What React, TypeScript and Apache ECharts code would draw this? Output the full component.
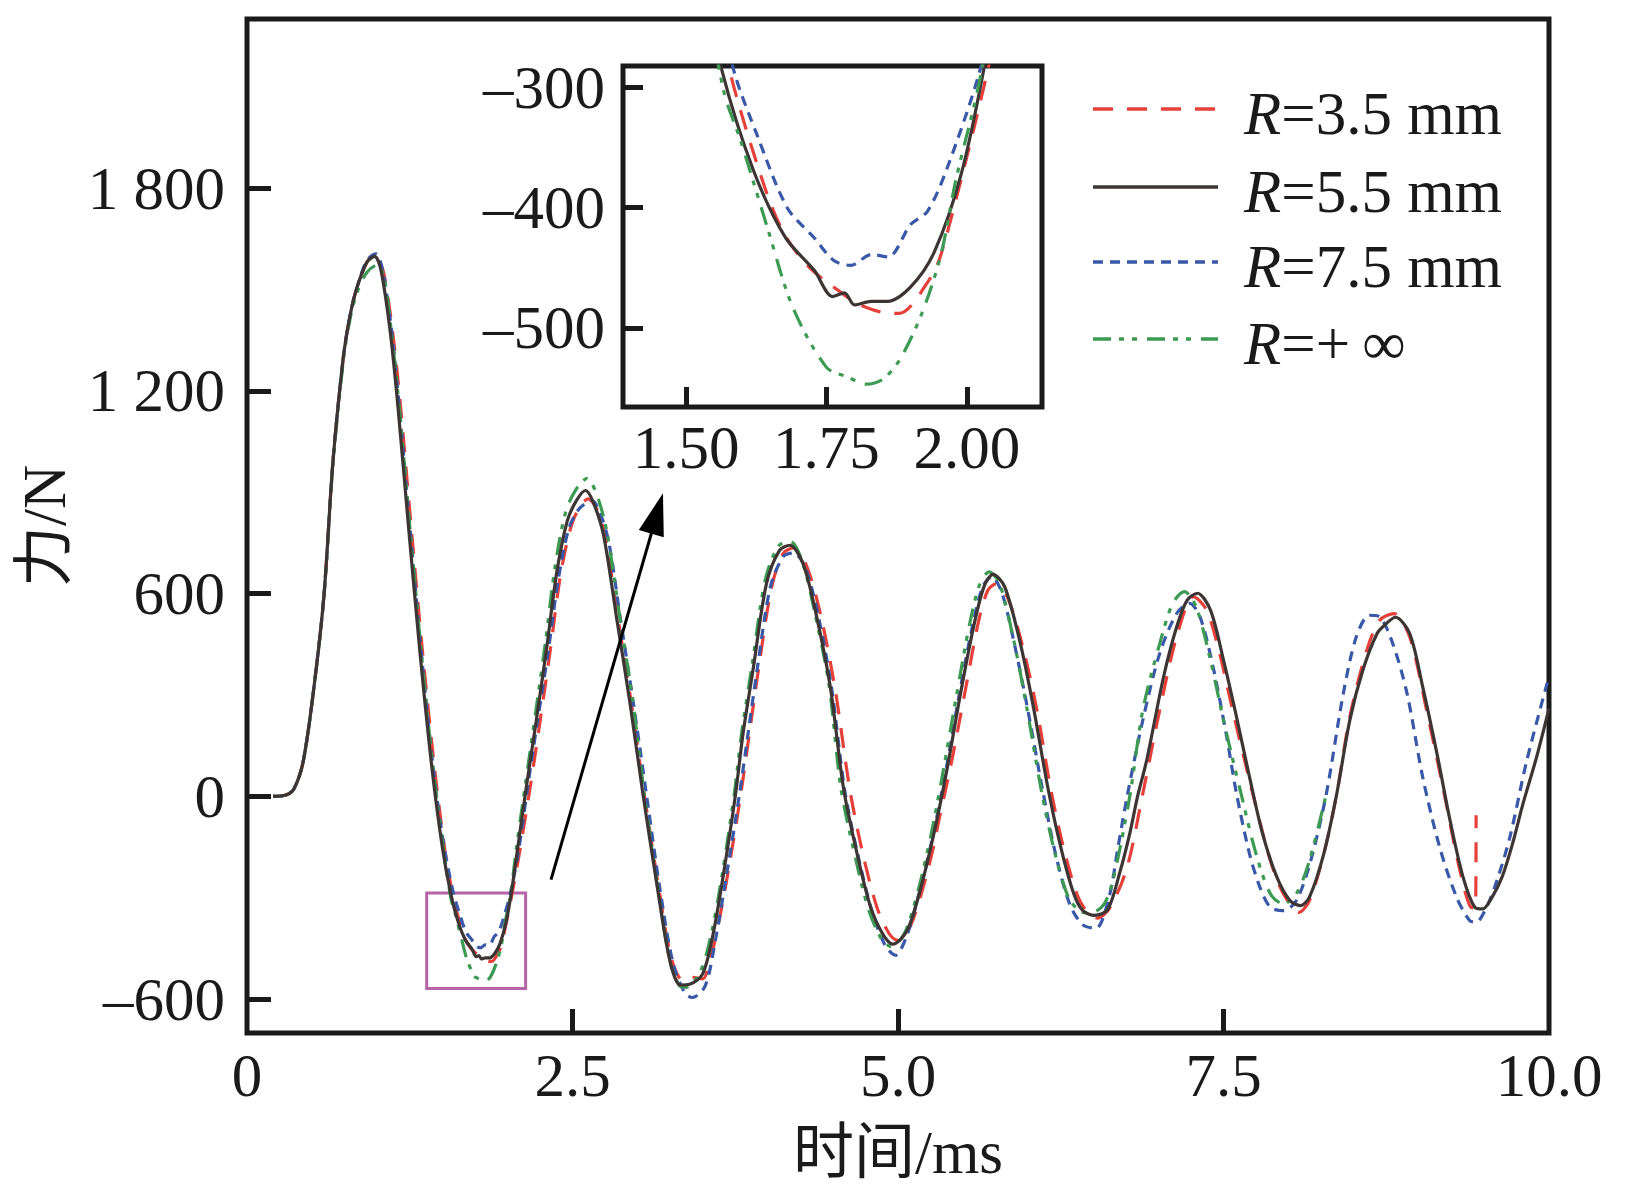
import React, { useEffect, useRef } from "react";
import * as echarts from "echarts";

// ---------- data (time in ms, force in N) ----------
const r35Points: number[][] = [
  [0.2,0],[0.3,4],[0.36,22],[0.43,100],[0.51,310],[0.59,590],[0.66,990],[0.74,1300],[0.79,1420],[0.84,1500],[0.92,1580],[0.97,1600],[1.01,1585],[1.05,1550],[1.12,1370],[1.18,1150],[1.26,800],[1.35,420],[1.44,85],[1.52,-160],[1.578,-287],[1.64,-383],[1.675,-422],[1.72,-450],[1.78,-472],[1.81,-481],[1.864,-488],[1.88,-488],[1.936,-458],[1.954,-439],[1.995,-367],[2.037,-286],[2.10,-150],[2.18,40],[2.25,220],[2.33,435],[2.41,660],[2.49,800],[2.56,860],[2.62,880],[2.68,855],[2.75,770],[2.85,525],[2.95,280],[3.05,10],[3.16,-265],[3.26,-480],[3.35,-545],[3.42,-535],[3.50,-540],[3.56,-480],[3.63,-360],[3.71,-190],[3.79,0],[3.86,190],[3.93,380],[4.03,620],[4.12,720],[4.20,735],[4.30,680],[4.41,530],[4.52,310],[4.63,20],[4.73,-170],[4.84,-330],[4.93,-405],[4.99,-425],[5.08,-395],[5.17,-300],[5.26,-170],[5.32,-60],[5.41,100],[5.52,320],[5.62,520],[5.69,610],[5.75,628],[5.84,590],[5.96,440],[6.07,250],[6.17,28],[6.27,-150],[6.38,-295],[6.46,-345],[6.53,-360],[6.63,-328],[6.76,-209],[6.88,8],[7.01,255],[7.14,472],[7.27,591],[7.37,551],[7.47,423],[7.57,255],[7.73,0],[7.86,-190],[7.96,-288],[8.08,-343],[8.16,-308],[8.27,-170],[8.37,8],[8.47,235],[8.60,432],[8.70,521],[8.81,541],[8.93,472],[9.06,255],[9.19,18],[9.31,-209],[9.40,-328],[9.435,-330],[9.44,-56]
];

const r55Points: number[][] = [
  [0.2,0],[0.3,4],[0.36,22],[0.43,100],[0.51,310],[0.59,590],[0.66,990],[0.74,1300],[0.79,1420],[0.84,1500],[0.92,1580],[0.98,1598],[1.03,1555],[1.1,1375],[1.16,1150],[1.24,800],[1.33,420],[1.42,85],[1.50,-150],[1.564,-286],[1.62,-369],[1.677,-425],[1.728,-452],[1.761,-474],[1.782,-471],[1.80,-481],[1.83,-478],[1.859,-478],[1.90,-466],[1.942,-437],[1.99,-372],[2.031,-283],[2.08,-150],[2.15,40],[2.22,220],[2.30,435],[2.38,665],[2.46,815],[2.53,875],[2.60,905],[2.66,870],[2.74,770],[2.84,525],[2.94,280],[3.04,10],[3.15,-265],[3.25,-490],[3.33,-558],[3.40,-556],[3.50,-525],[3.58,-407],[3.66,-229],[3.75,0],[3.81,186],[3.89,383],[3.99,630],[4.09,728],[4.17,743],[4.27,689],[4.37,541],[4.48,324],[4.58,28],[4.68,-160],[4.79,-328],[4.89,-412],[4.96,-437],[5.07,-397],[5.17,-278],[5.27,-120],[5.37,67],[5.48,304],[5.58,501],[5.66,620],[5.73,657],[5.82,620],[5.94,452],[6.04,264],[6.15,28],[6.25,-150],[6.35,-288],[6.42,-338],[6.51,-352],[6.61,-335],[6.70,-230],[6.78,-110],[6.84,0],[6.91,107],[7.04,354],[7.14,501],[7.22,580],[7.30,601],[7.40,551],[7.50,403],[7.60,235],[7.70,57],[7.80,-110],[7.91,-239],[8.01,-308],[8.09,-323],[8.16,-298],[8.27,-170],[8.37,8],[8.47,225],[8.57,373],[8.68,482],[8.75,511],[8.82,530],[8.93,482],[9.03,324],[9.14,126],[9.24,-71],[9.34,-239],[9.43,-328],[9.49,-333],[9.56,-300],[9.64,-238],[9.72,-140],[9.80,-22],[9.90,110],[10.0,260]
];

const r75Points: number[][] = [
  [0.2,0],[0.3,4],[0.36,22],[0.43,100],[0.51,310],[0.59,590],[0.66,990],[0.74,1300],[0.79,1420],[0.84,1500],[0.92,1585],[0.99,1605],[1.04,1560],[1.11,1380],[1.17,1150],[1.25,800],[1.34,420],[1.43,85],[1.51,-140],[1.585,-286],[1.626,-339],[1.68,-400],[1.728,-425],[1.763,-444],[1.793,-448],[1.83,-439],[1.86,-441],[1.90,-414],[1.93,-403],[1.965,-367],[2.025,-283],[2.09,-150],[2.16,40],[2.23,220],[2.31,420],[2.39,640],[2.47,790],[2.55,850],[2.65,875],[2.71,840],[2.78,750],[2.87,520],[2.97,270],[3.07,0],[3.17,-270],[3.27,-490],[3.36,-580],[3.42,-595],[3.52,-560],[3.60,-420],[3.68,-240],[3.78,0],[3.85,190],[3.92,380],[4.02,620],[4.12,710],[4.20,720],[4.29,675],[4.39,530],[4.49,320],[4.59,20],[4.69,-170],[4.80,-340],[4.90,-440],[4.98,-470],[5.06,-420],[5.16,-290],[5.26,-130],[5.36,60],[5.47,300],[5.57,500],[5.65,620],[5.72,650],[5.80,600],[5.90,440],[6.00,250],[6.11,20],[6.21,-170],[6.32,-320],[6.42,-380],[6.52,-390],[6.62,-300],[6.69,-150],[6.76,0],[6.88,225],[7.01,423],[7.14,541],[7.24,571],[7.32,531],[7.42,383],[7.52,186],[7.60,8],[7.70,-170],[7.78,-269],[7.86,-328],[7.96,-338],[8.06,-308],[8.17,-190],[8.29,8],[8.42,304],[8.52,472],[8.62,536],[8.70,531],[8.80,452],[8.91,304],[9.03,57],[9.16,-150],[9.29,-298],[9.39,-367],[9.44,-372],[9.52,-328],[9.60,-249],[9.70,-120],[9.83,107],[10.0,355]
];

const rInfPoints: number[][] = [
  [0.2,0],[0.3,4],[0.36,22],[0.43,100],[0.51,310],[0.59,585],[0.66,980],[0.74,1290],[0.79,1410],[0.84,1485],[0.92,1550],[1.0,1572],[1.05,1540],[1.11,1370],[1.17,1150],[1.25,800],[1.34,420],[1.43,80],[1.51,-160],[1.567,-303],[1.597,-344],[1.645,-417],[1.69,-483],[1.75,-533],[1.788,-541],[1.82,-547],[1.85,-543],[1.88,-527],[1.92,-488],[1.954,-439],[1.98,-378],[2.025,-289],[2.07,-150],[2.14,40],[2.21,230],[2.29,450],[2.37,690],[2.45,845],[2.53,910],[2.61,940],[2.68,900],[2.76,790],[2.86,540],[2.96,290],[3.05,10],[3.15,-260],[3.25,-490],[3.32,-560],[3.37,-565],[3.48,-520],[3.57,-400],[3.65,-230],[3.74,0],[3.80,190],[3.88,390],[3.98,640],[4.08,740],[4.17,755],[4.26,700],[4.36,545],[4.47,330],[4.56,28],[4.66,-160],[4.77,-330],[4.87,-420],[4.95,-445],[5.05,-405],[5.15,-285],[5.25,-120],[5.34,60],[5.45,300],[5.55,510],[5.63,630],[5.70,664],[5.78,630],[5.89,460],[5.99,260],[6.10,20],[6.20,-160],[6.31,-300],[6.40,-340],[6.48,-345],[6.58,-320],[6.65,-250],[6.78,0],[6.88,255],[7.01,452],[7.11,571],[7.20,606],[7.29,561],[7.40,403],[7.50,225],[7.64,0],[7.75,-170],[7.86,-288],[7.96,-318],[8.06,-288],[8.16,-190],[8.29,8]
];

const seriesNames = ["R=3.5 mm", "R=5.5 mm", "R=7.5 mm", "R=+∞"];
const legendSuffix = ["=3.5 mm", "=5.5 mm", "=7.5 mm", "=+\u2009∞"];

const mainXTicks = [2.5, 5, 7.5];
const mainXLabels = [0, 2.5, 5, 7.5, 10];
const mainYTicks = [-600, 0, 600, 1200, 1800];
const insetXTicks = [1.5, 1.75, 2.0];
const insetYTicks = [-500, -400, -300];

// zoom box (data coords) and arrow (data coords)
const zoomBox = { x0: 1.38, x1: 2.14, y0: -286, y1: -568 };
const arrowFrom = [2.335, -246];
const arrowTo = [3.15, 837];

const FONT = "'Liberation Serif', 'Times New Roman', 'Noto Sans CJK SC', serif";
const FS = 61;
const INK = "#1a1a1a";
const COLORS = ["#e5403a", "#3d3533", "#3a58a8", "#3c9a52"];
const DASHES: (number[] | "solid")[] = [[20, 14], "solid", [10, 7], [18, 8, 5, 8, 5, 10]];

const fmtMinus = (v: number) => (v < 0 ? "\u2013" + Math.abs(v) : String(v));
const fmtThousands = (v: number) => {
  const s = fmtMinus(v);
  return Math.abs(v) >= 1000 ? s.replace(/(\d)(\d{3})$/, "$1 $2") : s;
};

export default function App() {
  const ref = useRef<HTMLDivElement>(null);

  useEffect(() => {
    if (!ref.current) return;
    const chart = echarts.init(ref.current, null, { renderer: "svg" });
    const data = [r35Points, r55Points, r75Points, rInfPoints];

    const labelStyle = { fontFamily: FONT, fontSize: FS, color: INK };
    const tickStyle = { inside: true, lineStyle: { width: 5, color: INK } };

    const mainSeries: any[] = data.map((d, i) => ({
      type: "line",
      name: seriesNames[i],
      xAxisIndex: 0,
      yAxisIndex: 0,
      data: d,
      showSymbol: false,
      smooth: 0.3,
      lineStyle: { color: COLORS[i], width: 3.2, type: DASHES[i] },
      z: i === 1 ? 3 : 2,
    }));
    mainSeries[1].markArea = {
      silent: true,
      itemStyle: { color: "rgba(0,0,0,0)", borderColor: "#b565a7", borderWidth: 3 },
      data: [[{ coord: [zoomBox.x0, zoomBox.y0] }, { coord: [zoomBox.x1, zoomBox.y1] }]],
    };
    mainSeries[1].markLine = {
      silent: true,
      symbol: ["none", "triangle"],
      symbolSize: [26, 42],
      label: { show: false },
      lineStyle: { color: "#000", width: 3, type: "solid" },
      data: [[{ coord: arrowFrom }, { coord: arrowTo }]],
    };

    const insetSeries = data.map((d, i) => ({
      type: "line",
      name: seriesNames[i] + " inset",
      xAxisIndex: 1,
      yAxisIndex: 1,
      data: d,
      showSymbol: false,
      smooth: 0.3,
      clip: true,
      lineStyle: { color: COLORS[i], width: 3.2, type: DASHES[i] },
      z: 6,
    }));

    const legendY = [109, 187, 262, 339];
    const graphics: any[] = [];
    legendY.forEach((y, i) => {
      graphics.push({
        type: "line",
        shape: { x1: 1093, y1: y, x2: 1218, y2: y },
        style: {
          stroke: COLORS[i],
          lineWidth: 3.5,
          lineDash: DASHES[i] === "solid" ? null : DASHES[i],
        },
      });
      graphics.push({
        type: "text",
        x: 1244,
        y: y + 4,
        style: {
          text: "{i|R}{n|" + legendSuffix[i] + "}",
          verticalAlign: "middle",
          fill: INK,
          rich: {
            i: { fontStyle: "italic", fontFamily: FONT, fontSize: FS, fill: INK },
            n: { fontFamily: FONT, fontSize: FS, fill: INK },
          },
        },
      });
    });

    chart.setOption({
      animation: false,
      backgroundColor: "#ffffff",
      grid: [
        { left: 247, right: 85, top: 19, bottom: 161, show: true, borderColor: INK, borderWidth: 5, backgroundColor: "rgba(0,0,0,0)" },
        { left: 623, top: 66, width: 419, height: 341, show: true, borderColor: INK, borderWidth: 5, backgroundColor: "#ffffff", z: 4 },
      ],
      xAxis: [
        {
          type: "value", gridIndex: 0, min: 0, max: 10, interval: 2.5, z: 8,
          axisLine: { show: false, onZero: false }, splitLine: { show: false },
          axisTick: { ...tickStyle, length: 24, customValues: mainXTicks },
          axisLabel: { ...labelStyle, margin: 12, customValues: mainXLabels,
            formatter: (v: number) => (v === 0 ? "0" : v.toFixed(1)) },
          name: "时间/ms", nameLocation: "middle", nameGap: 89,
          nameTextStyle: { fontFamily: FONT, fontSize: FS, color: INK },
        },
        {
          type: "value", gridIndex: 1, min: 1.3875, max: 2.134, z: 8,
          axisLine: { show: false, onZero: false }, splitLine: { show: false },
          axisTick: { ...tickStyle, length: 20, customValues: insetXTicks },
          axisLabel: { ...labelStyle, margin: 10, customValues: insetXTicks,
            formatter: (v: number) => v.toFixed(2) },
        },
      ],
      yAxis: [
        {
          type: "value", gridIndex: 0, min: -700, max: 2300, z: 8,
          axisLine: { show: false, onZero: false }, splitLine: { show: false },
          axisTick: { ...tickStyle, length: 24, customValues: mainYTicks },
          axisLabel: { ...labelStyle, margin: 22, customValues: mainYTicks, formatter: fmtThousands },
          name: "力/N", nameLocation: "middle", nameGap: 172, nameRotate: 90,
          nameTextStyle: { fontFamily: FONT, fontSize: FS, color: INK },
        },
        {
          type: "value", gridIndex: 1, min: -566, max: -282, z: 8,
          axisLine: { show: false, onZero: false }, splitLine: { show: false },
          axisTick: { ...tickStyle, length: 20, customValues: insetYTicks },
          axisLabel: { ...labelStyle, margin: 18, customValues: insetYTicks, formatter: fmtMinus },
        },
      ],
      series: [...mainSeries, ...insetSeries],
      graphic: graphics,
    });

    return () => chart.dispose();
  }, []);

  return (
    <div
      ref={ref}
      style={{ position: "fixed", left: 0, top: 0, width: 1634, height: 1194, background: "#fff" }}
    />
  );
}
